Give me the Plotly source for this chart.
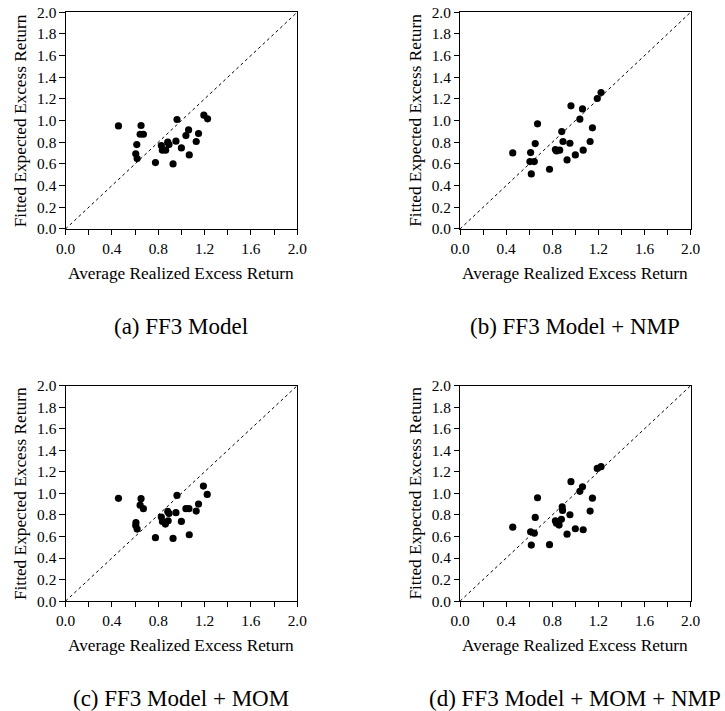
import plotly.graph_objects as go

# Average realized excess returns (x) and fitted expected excess returns (y), per model
ff3_realized = [0.457, 0.652, 0.644, 0.672, 0.615, 0.606, 0.618, 0.776, 0.962, 1.194, 1.226, 1.062,
                1.039, 1.148, 1.128, 0.953, 0.882, 0.893, 0.827, 0.836, 0.864, 1.000, 1.068, 0.928]
ff3_fitted = [0.951, 0.955, 0.874, 0.874, 0.779, 0.693, 0.650, 0.613, 1.010, 1.050, 1.016, 0.914,
              0.862, 0.881, 0.807, 0.810, 0.801, 0.779, 0.770, 0.727, 0.727, 0.748, 0.683, 0.600]

ff3_nmp_realized = [0.457, 0.612, 0.652, 0.672, 0.606, 0.644, 0.618, 0.776, 0.962, 1.190, 1.223, 1.062,
                    1.039, 1.148, 1.128, 0.953, 0.882, 0.893, 0.827, 0.836, 0.864, 1.068, 1.000, 0.928]
ff3_nmp_fitted = [0.702, 0.705, 0.788, 0.970, 0.622, 0.622, 0.508, 0.551, 1.136, 1.204, 1.259, 1.108,
                  1.013, 0.933, 0.807, 0.791, 0.899, 0.807, 0.733, 0.720, 0.727, 0.727, 0.683, 0.637]

ff3_mom_realized = [0.457, 0.652, 0.644, 0.672, 0.608, 0.606, 0.618, 0.776, 0.962, 1.190, 1.223, 1.039,
                    1.065, 1.148, 1.128, 0.953, 0.882, 0.893, 0.827, 0.836, 0.862, 0.886, 1.000, 1.068, 0.928]
ff3_mom_fitted = [0.954, 0.951, 0.891, 0.858, 0.728, 0.703, 0.669, 0.589, 0.981, 1.068, 0.991, 0.858,
                  0.858, 0.901, 0.836, 0.821, 0.833, 0.814, 0.780, 0.740, 0.715, 0.746, 0.740, 0.616, 0.582]

ff3_mom_nmp_realized = [0.457, 0.612, 0.644, 0.652, 0.672, 0.618, 0.776, 0.962, 1.190, 1.223, 1.062, 1.039,
                        1.148, 1.128, 0.953, 0.886, 0.889, 0.879, 0.827, 0.836, 0.859, 1.000, 1.068, 0.928]
ff3_mom_nmp_fitted = [0.687, 0.644, 0.631, 0.777, 0.960, 0.520, 0.524, 1.109, 1.232, 1.248, 1.062, 1.019,
                      0.956, 0.836, 0.802, 0.876, 0.842, 0.759, 0.746, 0.724, 0.706, 0.672, 0.663, 0.622]

captions = ["(a) FF3 Model", "(b) FF3 Model + NMP", "(c) FF3 Model + MOM", "(d) FF3 Model + MOM + NMP"]
x_title = "Average Realized Excess Return"
y_title = "Fitted Expected Excess Return"

tick_values = [0.0, 0.2, 0.4, 0.6, 0.8, 1.0, 1.2, 1.4, 1.6, 1.8, 2.0]
x_tick_text = ["0.0", "", "0.4", "", "0.8", "", "1.2", "", "1.6", "", "2.0"]
y_tick_text = ["0.0", "0.2", "0.4", "0.6", "0.8", "1.0", "1.2", "1.4", "1.6", "1.8", "2.0"]
diagonal = [0.0, 2.0]

panels = [
    (ff3_realized, ff3_fitted),
    (ff3_nmp_realized, ff3_nmp_fitted),
    (ff3_mom_realized, ff3_mom_fitted),
    (ff3_mom_nmp_realized, ff3_mom_nmp_fitted),
]

# page placement of the figure canvas: displayed = SCALE * canvas + OFFSET
SCALE, OFFSET = 0.976, 7.8
W, H = 736, 721
FONT = "Liberation Serif"

# plot-area boxes in displayed pixels: (left, right, top, bottom)
boxes = [
    (63.5, 296.0, 11.0, 227.7),
    (459.3, 690.7, 11.0, 227.7),
    (63.5, 296.0, 384.3, 599.7),
    (459.3, 690.7, 384.3, 599.7),
]


def px(v):
    return (v - OFFSET) / SCALE / W


def py(v):
    return 1 - (v - OFFSET) / SCALE / H


def fs(size):
    return size / SCALE


fig = go.Figure()
layout = dict(
    width=W, height=H,
    margin=dict(l=0, r=0, t=0, b=0),
    paper_bgcolor="white", plot_bgcolor="white",
    showlegend=False,
    font=dict(family=FONT, color="black", size=fs(15)),
)
annotations = []

for i, ((xs, ys), (l, r, t, b)) in enumerate(zip(panels, boxes)):
    n = "" if i == 0 else str(i + 1)
    xa, ya = "x" + n, "y" + n
    fig.add_trace(go.Scatter(
        x=diagonal, y=diagonal, mode="lines", xaxis=xa, yaxis=ya,
        line=dict(color="black", width=1, dash="dot"), hoverinfo="skip"))
    fig.add_trace(go.Scatter(
        x=xs, y=ys, mode="markers", xaxis=xa, yaxis=ya,
        marker=dict(color="black", size=fs(7), line=dict(width=0))))

    axis_common = dict(
        range=[0, 2], showgrid=False, zeroline=False,
        showline=True, mirror=True, linecolor="black", linewidth=1,
        ticks="outside", ticklen=fs(5), tickwidth=1, tickcolor="black",
        tickvals=tick_values, tickfont=dict(family=FONT, size=fs(15), color="black"),
    )
    layout["xaxis" + n] = dict(axis_common, ticktext=x_tick_text,
                               domain=[px(l), px(r)], anchor=ya)
    layout["yaxis" + n] = dict(axis_common, ticktext=y_tick_text,
                               domain=[py(b), py(t)], anchor=xa)

    cx = (l + r) / 2
    annotations.append(dict(
        text=x_title, x=px(cx), y=py(b + 44), xref="paper", yref="paper",
        xanchor="center", yanchor="middle", showarrow=False,
        font=dict(family=FONT, size=17.3, color="black")))
    annotations.append(dict(
        text=y_title, x=px(l - 45), y=py((t + b) / 2), xref="paper", yref="paper",
        xanchor="center", yanchor="middle", textangle=-90, showarrow=False,
        font=dict(family=FONT, size=17.3, color="black")))
    annotations.append(dict(
        text=captions[i], x=px(cx), y=py(b + 97), xref="paper", yref="paper",
        xanchor="center", yanchor="middle", showarrow=False,
        font=dict(family=FONT, size=23, color="black")))

layout["annotations"] = annotations
fig.update_layout(**layout)
fig.write_html("out.html")
